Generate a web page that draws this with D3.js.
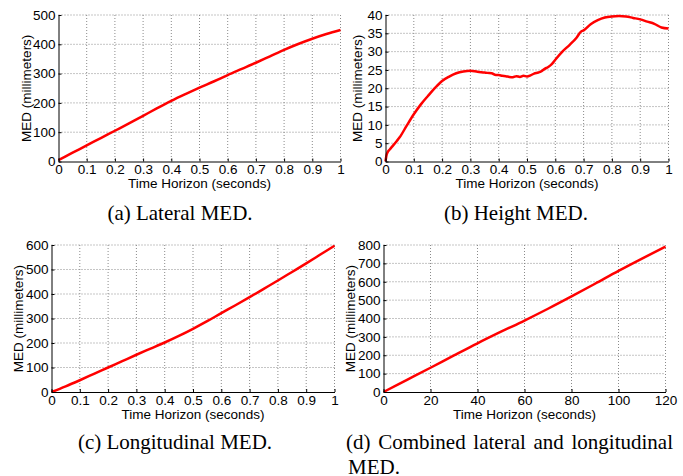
<!DOCTYPE html>
<html>
<head>
<meta charset="utf-8">
<script src="https://cdn.jsdelivr.net/npm/d3@7"></script>
<style>
  body { margin: 0; background: #fff; }
  text { font-family: "Liberation Sans", Arial, sans-serif; fill: #000; }
  .cap { font-family: "Liberation Serif", "Times New Roman", serif; }
</style>
</head>
<body>
<div id="fig"></div>
<script>
// ---- data ----
const lateralT = [0, 0.05, 0.1, 0.15, 0.2, 0.25, 0.3, 0.35, 0.4, 0.45, 0.5, 0.55, 0.6, 0.65, 0.7, 0.75, 0.8, 0.85, 0.9, 0.95, 1];
const lateralV = [5, 30, 55, 80, 105, 130, 156, 182, 207, 230, 252, 273, 295, 316, 337, 359, 381, 401, 419, 435, 449];

const heightT = [0, 0.003, 0.008, 0.015, 0.025, 0.04, 0.05, 0.075, 0.1, 0.125, 0.15, 0.175, 0.2,
  0.225, 0.25, 0.275, 0.3, 0.325, 0.35, 0.36, 0.375, 0.39, 0.4, 0.4125, 0.425, 0.4375, 0.45,
  0.4625, 0.475, 0.4875, 0.5, 0.5125, 0.525, 0.54, 0.55, 0.5625, 0.575, 0.5875, 0.6,
  0.625, 0.65, 0.675, 0.69, 0.7, 0.725, 0.75, 0.775, 0.8, 0.825, 0.85, 0.875, 0.9,
  0.925, 0.95, 0.975, 1];
const heightV = [0, 1.5, 2.6, 3.3, 4.2, 5.6, 6.6, 9.8, 12.9, 15.6, 17.9, 20.1, 22.0,
  23.2, 24.1, 24.6, 24.8, 24.5, 24.3, 24.2, 24.1, 23.6, 23.6, 23.4, 23.3, 23.1, 23.0,
  23.3, 23.1, 23.4, 23.2, 23.5, 24.0, 24.3, 24.6, 25.3, 25.8, 26.6, 27.8,
  30.0, 31.8, 33.8, 35.4, 35.8, 37.5, 38.6, 39.3, 39.6, 39.7, 39.6, 39.2, 38.8,
  38.2, 37.6, 36.6, 36.3];

const longT = [0, 0.05, 0.1, 0.15, 0.2, 0.25, 0.3, 0.35, 0.4, 0.45, 0.5, 0.55, 0.6, 0.65, 0.7, 0.75, 0.8, 0.85, 0.9, 0.95, 1];
const longV = [0, 23, 48, 74, 100, 126, 152, 177, 202, 229, 258, 289, 322, 354, 387, 421, 455, 490, 525, 561, 597];

const combT = [0, 10, 20, 30, 40, 50, 60, 70, 80, 90, 100, 110, 120];
const combV = [0, 66, 132, 199, 265, 328, 389, 453, 520, 589, 659, 726, 791];

const secTicks = [0, 0.1, 0.2, 0.3, 0.4, 0.5, 0.6, 0.7, 0.8, 0.9, 1];
const combXTicks = [0, 20, 40, 60, 80, 100, 120];
const lateralYTicks = [0, 100, 200, 300, 400, 500];
const heightYTicks = [0, 5, 10, 15, 20, 25, 30, 35, 40];
const longYTicks = [0, 100, 200, 300, 400, 500, 600];
const combYTicks = [0, 100, 200, 300, 400, 500, 600, 700, 800];

const xLabel = "Time Horizon (seconds)";
const yLabel = "MED (millimeters)";

const svg = d3.select("#fig").append("svg")
    .attr("width", 683)
    .attr("height", 476);

function panel(p) {
  const x = d3.scaleLinear().domain(p.xDomain).range([p.left, p.right]);
  const y = d3.scaleLinear().domain(p.yDomain).range([p.bottom, p.top]);
  const g = svg.append("g");

  // dotted grid
  g.append("g").selectAll("line")
    .data(p.xTicks.filter(d => d !== p.xDomain[0]))
    .join("line")
      .attr("x1", d => x(d)).attr("x2", d => x(d))
      .attr("y1", p.top).attr("y2", p.bottom)
      .attr("stroke", "#8a8a8a").attr("stroke-dasharray", "1,2");
  g.append("g").selectAll("line")
    .data(p.yTicks.filter(d => d !== p.yDomain[0]))
    .join("line")
      .attr("x1", p.left).attr("x2", p.right)
      .attr("y1", d => y(d)).attr("y2", d => y(d))
      .attr("stroke", "#8a8a8a").attr("stroke-dasharray", "1,2");

  // the curve
  g.append("path")
    .datum(p.t.map((t, i) => [t, p.v[i]]))
    .attr("fill", "none")
    .attr("stroke", "#ff0000")
    .attr("stroke-width", 2.5)
    .attr("stroke-linejoin", "round")
    .attr("d", d3.line().x(d => x(d[0])).y(d => y(d[1])).curve(d3.curveMonotoneX));

  // axes
  const ax = g.append("g")
    .attr("transform", `translate(0,${p.bottom})`)
    .call(d3.axisBottom(x).tickValues(p.xTicks).tickSize(-3).tickSizeOuter(0).tickPadding(3)
      .tickFormat(d3.format("")));
  const ay = g.append("g")
    .attr("transform", `translate(${p.left},0)`)
    .call(d3.axisLeft(y).tickValues(p.yTicks).tickSize(-3).tickSizeOuter(0).tickPadding(3)
      .tickFormat(d3.format("")));
  [ax, ay].forEach(a => {
    a.attr("font-size", 13.5).attr("font-family", null);
    a.select(".domain").attr("stroke", "#000");
    a.selectAll(".tick line").attr("stroke", "#000");
  });

  g.append("text")
    .attr("x", (p.left + p.right) / 2)
    .attr("y", p.bottom + 26.5)
    .attr("text-anchor", "middle")
    .attr("font-size", 13.5)
    .text(xLabel);
  g.append("text")
    .attr("transform", `translate(${p.yLabelX},${(p.top + p.bottom) / 2}) rotate(-90)`)
    .attr("text-anchor", "middle")
    .attr("dy", "0.35em")
    .attr("font-size", 13.5)
    .text(yLabel);
}

panel({ t: lateralT, v: lateralV, xDomain: [0, 1], yDomain: [0, 500],
  xTicks: secTicks, yTicks: lateralYTicks,
  left: 58.5, right: 340.5, top: 15, bottom: 161.5, yLabelX: 26 });
panel({ t: heightT, v: heightV, xDomain: [0, 1], yDomain: [0, 40],
  xTicks: secTicks, yTicks: heightYTicks,
  left: 385.5, right: 668.5, top: 15, bottom: 161.5, yLabelX: 357 });
panel({ t: longT, v: longV, xDomain: [0, 1], yDomain: [0, 600],
  xTicks: secTicks, yTicks: longYTicks,
  left: 51.5, right: 334.5, top: 245, bottom: 392, yLabelX: 18 });
panel({ t: combT, v: combV, xDomain: [0, 120], yDomain: [0, 800],
  xTicks: combXTicks, yTicks: combYTicks,
  left: 383.5, right: 665.5, top: 245, bottom: 392, yLabelX: 350 });

// sub-captions
const capSize = 21;
svg.append("text").attr("class", "cap").attr("x", 180).attr("y", 220)
  .attr("text-anchor", "middle").attr("font-size", capSize).text("(a) Lateral MED.");
svg.append("text").attr("class", "cap").attr("x", 516).attr("y", 220)
  .attr("text-anchor", "middle").attr("font-size", capSize).text("(b) Height MED.");
svg.append("text").attr("class", "cap").attr("x", 175).attr("y", 449)
  .attr("text-anchor", "middle").attr("font-size", capSize).text("(c) Longitudinal MED.");

// justified first line of (d)
const dLine = svg.append("text").attr("class", "cap").attr("x", 346).attr("y", 449)
  .attr("font-size", capSize).text("(d) Combined lateral and longitudinal");
const spare = 673 - 346 - dLine.node().getComputedTextLength();
dLine.attr("word-spacing", Math.max(0, spare / 4));
svg.append("text").attr("class", "cap").attr("x", 348).attr("y", 474)
  .attr("font-size", capSize).text("MED.");
</script>
</body>
</html>
